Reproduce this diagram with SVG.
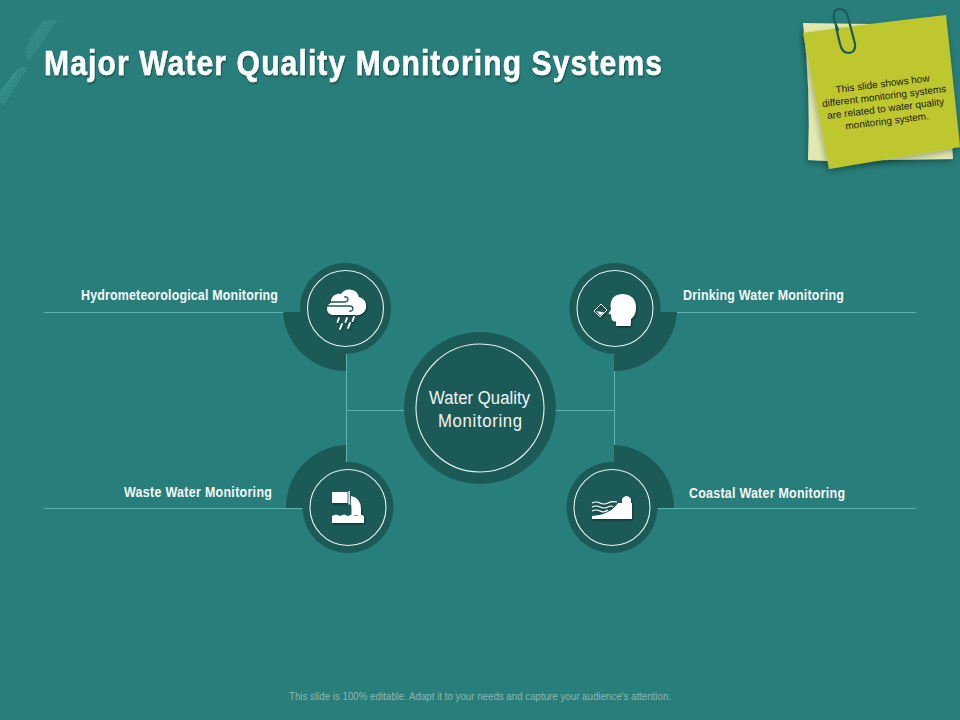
<svg xmlns="http://www.w3.org/2000/svg" width="960" height="720" viewBox="0 0 960 720">
<defs>
<filter id="sh" x="-20%" y="-20%" width="150%" height="150%"><feDropShadow dx="1" dy="1.5" stdDeviation="0.8" flood-color="#000" flood-opacity="0.4"/></filter>
<filter id="noteSh" x="-10%" y="-10%" width="125%" height="125%"><feDropShadow dx="-1" dy="3" stdDeviation="3" flood-color="#000" flood-opacity="0.3"/></filter>
</defs>
<style>
.disc{fill:#1c5a58}
.ring{fill:none;stroke:#e6f2f0;stroke-width:1.100}
.line{fill:none;stroke:#5fb3ad;stroke-width:1}
.hatch{fill:none;stroke:#46a09a;stroke-width:0.800}
.lab{font-family:"Liberation Sans",Arial,sans-serif;font-weight:700;font-size:14.500px;fill:#f4f8f7}
.ic{fill:#fff}
.ics{fill:none;stroke:#fff}
.icd{fill:none;stroke:#1c5a58}
.ctr{font-family:"Liberation Sans",Arial,sans-serif;font-size:19px;fill:#f0f6f5}
</style>
<rect width="960" height="720" fill="#287e7a"/>
<g id="decor">
<path class="hatch" d="M57 20 28 60M54.500 20 27 58M52 20 26 56M49.500 20 25.500 53M47 20 27 48M44.500 20 30 40M27 67 3 105M24.500 67 1 104M22 67 0 102M19.500 68 0 99M17 70 0 96M14.500 73 0 93"/>
</g>
<text id="title" transform="translate(44 75) scale(.86 1)" textLength="718.600" lengthAdjust="spacing" font-family="'Liberation Sans',Arial,sans-serif" font-weight="700" font-size="35" fill="#fff" stroke="#fff" stroke-width="0.500" filter="url(#sh)">Major Water Quality Monitoring Systems</text>
<g id="note">
<path d="M803 23 870 24 945 30 953 159 826 161 808 160Q811 90 803 23Z" fill="#e3e9ae" filter="url(#noteSh)"/>
<path d="M803 33Q850 26 946 15L960 147 829 169Q816 100 803 33Z" fill="#bfc72f" filter="url(#noteSh)"/>
<path d="M838 30 834 20Q832 9 840 9 846 9 848 17L855 44Q856 52 849 53 842 53 840 44L836 27" fill="none" stroke="#1c5a58" stroke-width="2.200" stroke-linecap="round"/>
<g transform="rotate(-7 885 104)" font-family="'Liberation Sans',Arial,sans-serif" font-size="10" fill="#1a1a1a" text-anchor="middle">
<text x="885" y="87">This slide shows how</text>
<text x="885" y="99.500">different monitoring systems</text>
<text x="885" y="112">are related to water quality</text>
<text x="885" y="124.500">monitoring system.</text>
</g>
</g>
<g id="connectors">
<path class="line" d="M44 312.500H284M677 312.500H916M44 508.500H304M657 508.500H916M346.500 353V462M614.500 353V462M346.500 410.500H405M555 410.500H614.500"/>
</g>
<g id="node-center">
<circle class="disc" cx="480" cy="408" r="76"/>
<circle class="ring" cx="480" cy="408" r="64"/>
<text class="ctr" transform="translate(429 404) scale(.88 1)" textLength="114.800" lengthAdjust="spacing">Water Quality</text>
<text class="ctr" transform="translate(438 427) scale(.88 1)" textLength="95.500" lengthAdjust="spacing">Monitoring</text>
</g>
<g id="node-hydro">
<path class="disc" d="M283 312H346V371A62.500 62.500 0 0 1 283 312Z"/>
<circle class="disc" cx="345.500" cy="308.500" r="45.500"/>
<circle class="ring" cx="345.500" cy="308.500" r="38"/>
<g filter="url(#sh)">
<path class="ic" d="M333 315A6 6 0 0 1 327 309 6 6 0 0 1 331 303 8 8 0 0 1 341 294 10 10 0 0 1 359 297 8.500 8.500 0 0 1 355 315Z"/>
<path class="icd" stroke-width="1.300" d="M326 302H344Q348 302 348 299 347 296 344 297M326 306H350Q353 306 353 309 352 312 349 311"/>
<path class="ics" stroke-width="1.800" stroke-linecap="round" d="M339 318 337.500 322M347 318 345.500 322M354 317 352.500 321M342 324 340 329M350 323 348 328"/>
</g>
<text class="lab" transform="translate(81 300) scale(.86 1)" textLength="229" lengthAdjust="spacing">Hydrometeorological Monitoring</text>
</g>
<g id="node-drinking">
<path class="disc" d="M677 312H614V371A62.500 62.500 0 0 0 677 312Z"/>
<circle class="disc" cx="615" cy="308.500" r="45.500"/>
<circle class="ring" cx="615" cy="308.500" r="38"/>
<g filter="url(#sh)">
<path class="ic" d="M616 326V321.500Q612 322 611.500 318L611 314.500 608.500 313.500 611 309.500 610.500 305Q611.500 294 623 294 636 295 636 308 636 315 631 319L630.500 326Z"/>
<path class="ics" stroke-width="1" d="M594 311 601 304 607 310 600 317Z"/>
<path class="ic" d="M596.500 311 604 312.500 600 315.500Z"/>
</g>
<text class="lab" transform="translate(683 300) scale(.86 1)" textLength="187" lengthAdjust="spacing">Drinking Water Monitoring</text>
</g>
<g id="node-waste">
<path class="disc" d="M286 508A62 62 0 0 1 346 445V508Z"/>
<circle class="disc" cx="348" cy="507.500" r="45.500"/>
<circle class="ring" cx="348" cy="507.500" r="38"/>
<g filter="url(#sh)">
<path class="ic" d="M332 492H347.500V503H332Z"/>
<path class="ic" d="M348.500 491H349.800V504.500H348.500Z"/>
<path class="ic" d="M351 496Q361 498 361 509V515H351.500V509Q351.500 505 350.800 504Z"/>
<path class="ic" d="M332 516 336 514.500 340 516 344 514.500 348 516 352 514.500 356 516 360 514.500 364 516V523H332Z"/>
</g>
<text class="lab" transform="translate(124 497) scale(.86 1)" textLength="172" lengthAdjust="spacing">Waste Water Monitoring</text>
</g>
<g id="node-coastal">
<path class="disc" d="M674 508A62 62 0 0 0 614 445V508Z"/>
<circle class="disc" cx="612" cy="507.500" r="45.500"/>
<circle class="ring" cx="612" cy="507.500" r="38"/>
<g filter="url(#sh)">
<path class="ic" d="M592 516Q610 515 618 503H622V499Q624 496 626.500 496 629 496 631 499V503H632V519H592Z"/>
<path class="ics" stroke-width="1.200" d="M592 503Q596 501 600 503T608 503 617 502M592 507Q596 505 600 507T608 507 613 507M592 511Q596 509 600 511T608 510"/>
</g>
<text class="lab" transform="translate(689 498) scale(.86 1)" textLength="181.400" lengthAdjust="spacing">Coastal Water Monitoring</text>
</g>
<text id="footer" x="289" y="700" textLength="382" lengthAdjust="spacingAndGlyphs" font-family="'Liberation Sans',Arial,sans-serif" font-size="10" fill="#8fb6b3">This slide is 100% editable. Adapt it to your needs and capture your audience's attention.</text>
</svg>
